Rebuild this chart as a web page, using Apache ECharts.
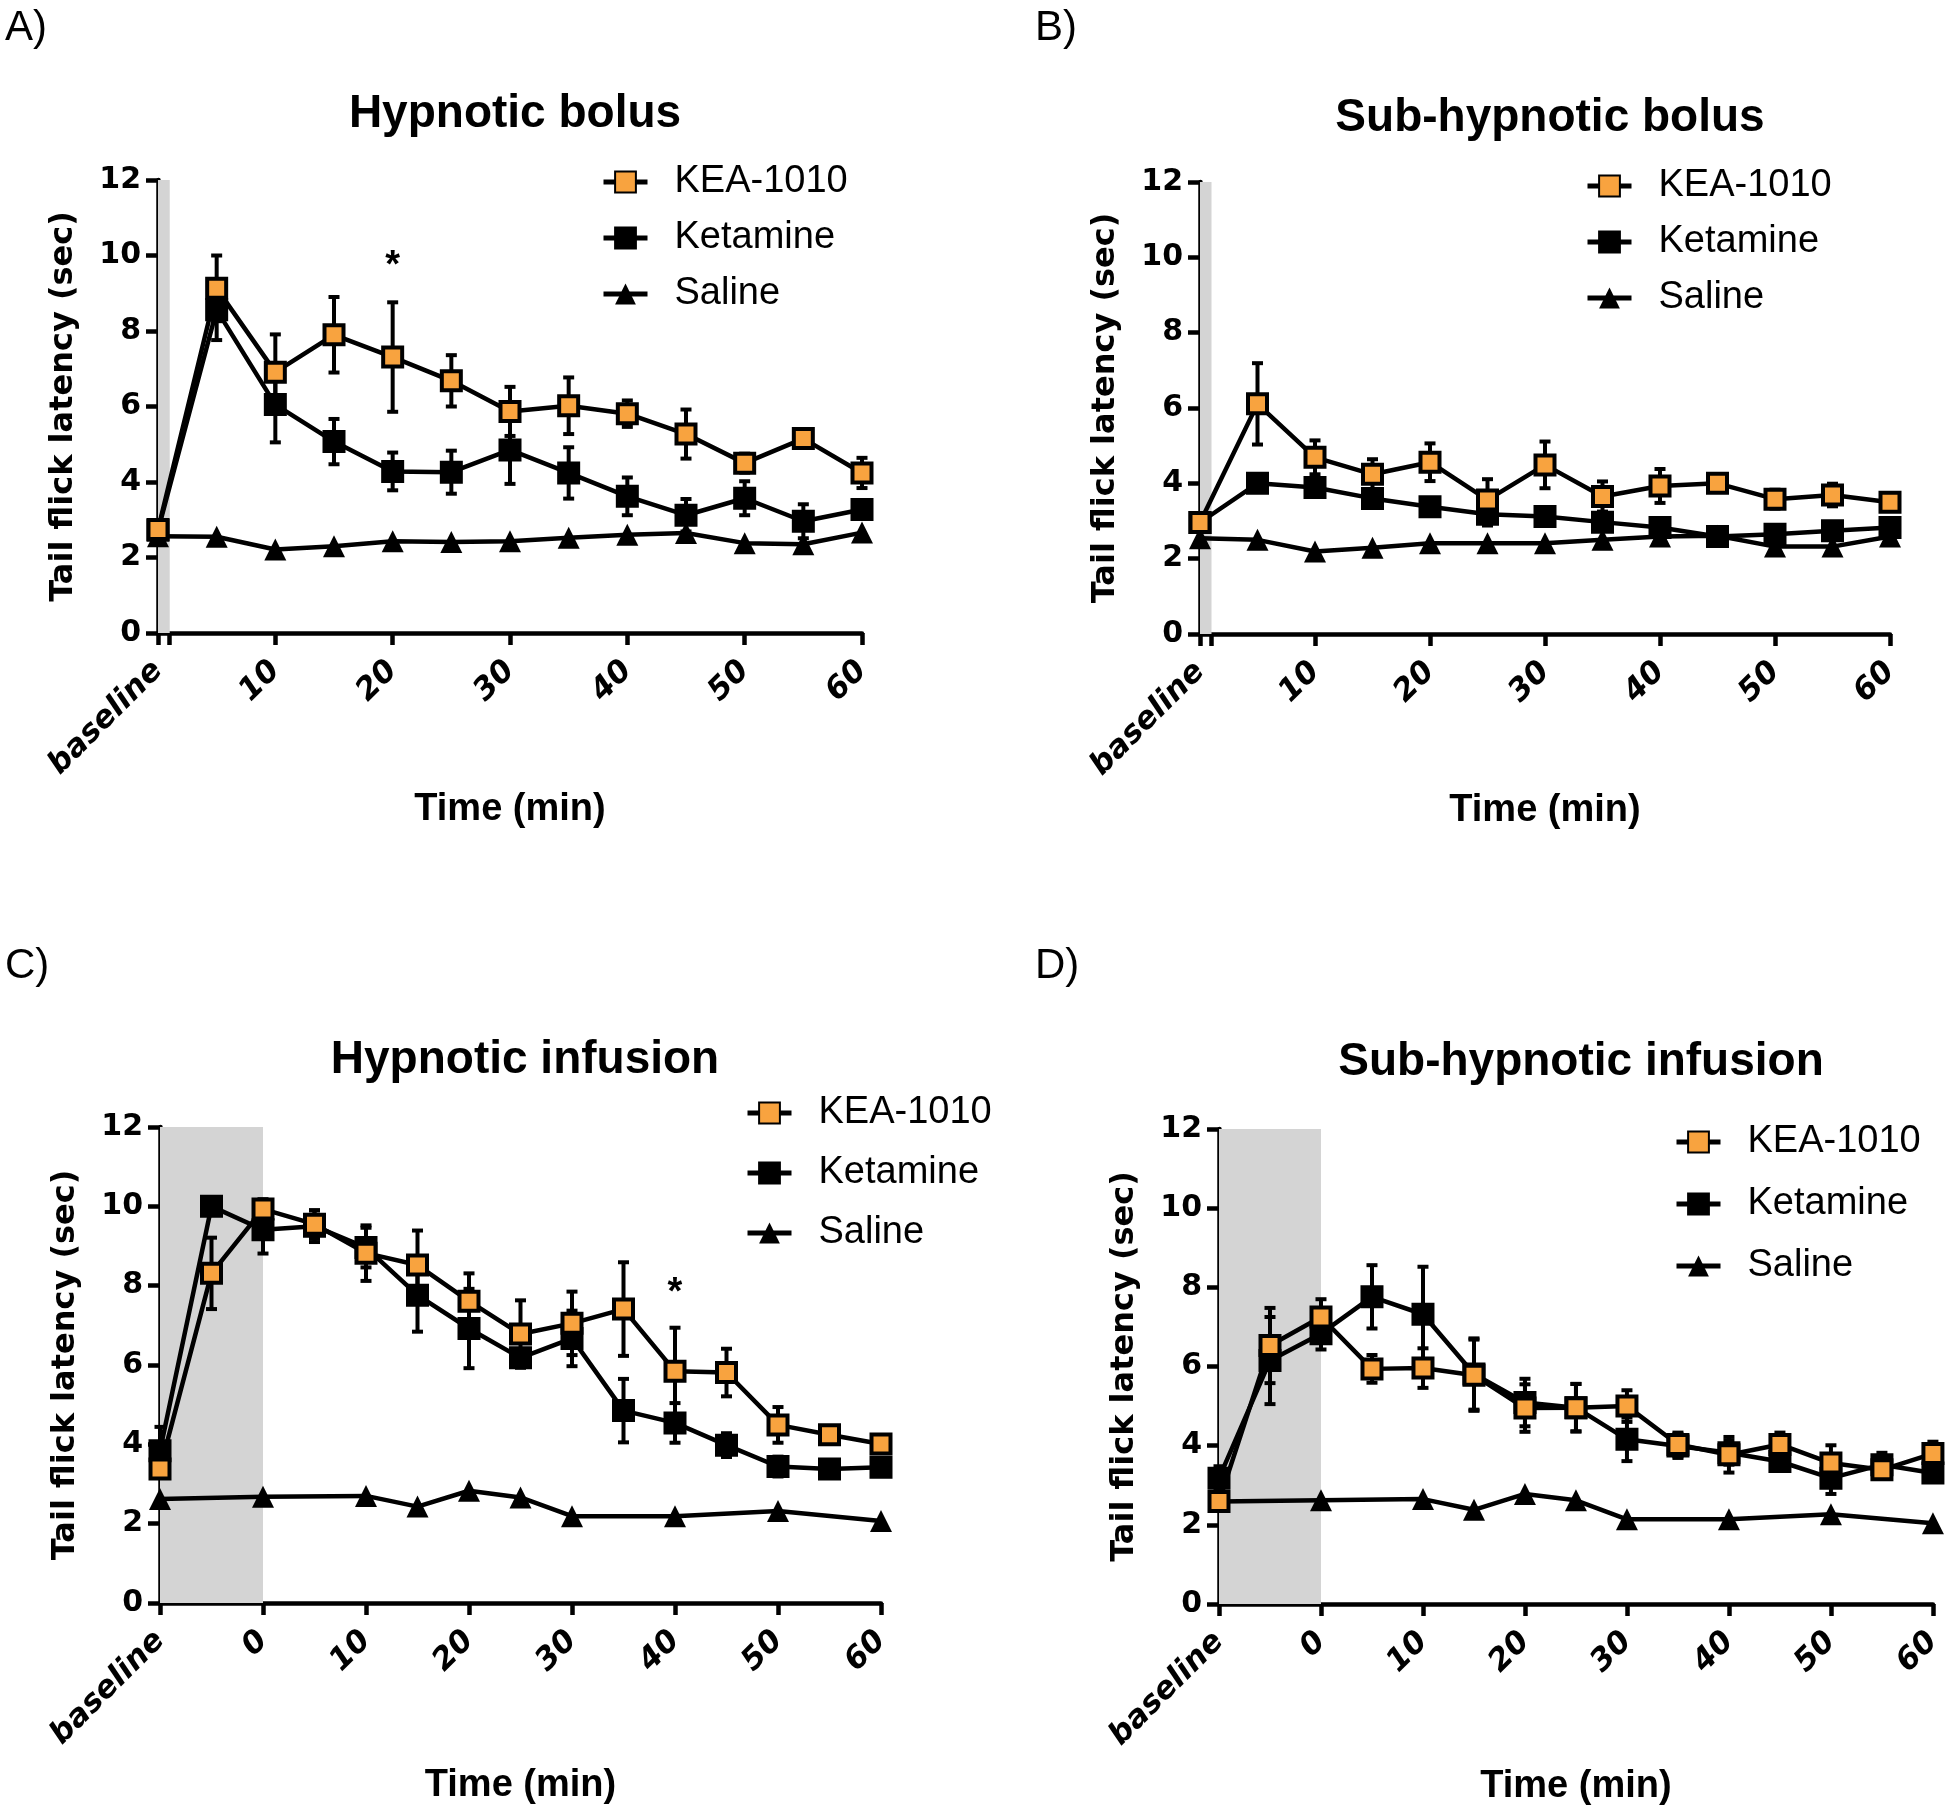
<!DOCTYPE html>
<html>
<head>
<meta charset="utf-8">
<script src="https://cdn.jsdelivr.net/npm/echarts@6/dist/echarts.min.js"></script>
<style>
html,body{margin:0;padding:0;background:#fff;}
#chart{width:1946px;height:1807px;}
</style>
</head>
<body>
<div id="chart"></div>
<script>
// ---------- Data ----------
const seriesNames = ['KEA-1010', 'Ketamine', 'Saline'];
const panelLetters = ['A)', 'B)', 'C)', 'D)'];
const panelTitles = ['Hypnotic bolus', 'Sub-hypnotic bolus', 'Hypnotic infusion', 'Sub-hypnotic infusion'];
const xAxisTitle = 'Time (min)';
const yAxisTitle = 'Tail flick latency (sec)';
const baselineLabel = 'baseline';

// Bolus panels (A, B): baseline plotted at 0
const timesBolus = [0, 5, 10, 15, 20, 25, 30, 35, 40, 45, 50, 55, 60];
const bolusTickValues = [0, 1, 10, 20, 30, 40, 50, 60];
const bolusLabelValues = [0, 10, 20, 30, 40, 50, 60];
const bolusBand = [0, 1];

// Infusion panels (C, D): baseline plotted at -10
const timesInfusion = [-10, -5, 0, 5, 10, 15, 20, 25, 30, 35, 40, 45, 50, 55, 60];
const timesInfusionSaline = [-10, 0, 10, 15, 20, 25, 30, 40, 50, 60];
const infusionBand = [-10, 0];

// Panel A — Hypnotic bolus
const keaA    = [2.74, 9.13, 6.91, 7.90, 7.31, 6.68, 5.87, 6.02, 5.81, 5.27, 4.50, 5.15, 4.24];
const keaAErr = [0.10, 0.87, 1.00, 1.00, 1.45, 0.68, 0.65, 0.75, 0.35, 0.65, 0.25, 0.12, 0.40];
const ketA    = [2.72, 8.56, 6.05, 5.07, 4.28, 4.26, 4.85, 4.24, 3.62, 3.12, 3.57, 2.96, 3.27];
const ketAErr = [0.10, 0.80, 1.00, 0.60, 0.50, 0.57, 0.90, 0.68, 0.50, 0.43, 0.45, 0.45, 0.10];
const salA    = [2.56, 2.55, 2.21, 2.30, 2.43, 2.41, 2.43, 2.52, 2.60, 2.65, 2.38, 2.35, 2.66];
const starsA  = [[20, 9.7]];

// Panel B — Sub-hypnotic bolus
const keaB    = [2.96, 6.11, 4.69, 4.24, 4.56, 3.56, 4.49, 3.65, 3.93, 4.00, 3.58, 3.69, 3.50];
const keaBErr = [0.10, 1.08, 0.45, 0.40, 0.50, 0.55, 0.62, 0.40, 0.45, 0.20, 0.25, 0.30, 0.10];
const ketB    = [2.96, 4.00, 3.89, 3.60, 3.38, 3.18, 3.12, 2.97, 2.83, 2.59, 2.65, 2.74, 2.83];
const ketBErr = [0.10, 0.15, 0.15, 0.15, 0.10, 0.30, 0.10, 0.15, 0.10, 0.10, 0.10, 0.10, 0.10];
const salB    = [2.54, 2.50, 2.19, 2.29, 2.41, 2.41, 2.41, 2.50, 2.59, 2.61, 2.32, 2.32, 2.59];
const starsB  = [];

// Panel C — Hypnotic infusion
const keaC    = [3.38, 8.31, 9.93, 9.55, 8.82, 8.52, 7.61, 6.78, 7.05, 7.41, 5.84, 5.81, 4.49, 4.24, 4.01];
const keaCErr = [0.20, 0.90, 0.25, 0.35, 0.70, 0.87, 0.70, 0.85, 0.80, 1.18, 1.10, 0.60, 0.45, 0.15, 0.15];
const ketC    = [3.84, 10.00, 9.41, 9.50, 8.96, 7.76, 6.92, 6.18, 6.67, 4.85, 4.54, 3.98, 3.44, 3.38, 3.42];
const ketCErr = [0.60, 0.10, 0.60, 0.40, 0.50, 0.92, 1.00, 0.20, 0.70, 0.80, 0.50, 0.30, 0.25, 0.10, 0.15];
const salC    = [2.62, 2.68, 2.70, 2.43, 2.83, 2.66, 2.19, 2.19, 2.32, 2.07];
const starsC  = [[40, 7.8]];

// Panel D — Sub-hypnotic infusion
const keaD    = [2.59, 6.53, 7.25, 5.94, 5.96, 5.78, 4.95, 4.96, 5.00, 4.03, 3.77, 4.03, 3.56, 3.39, 3.80];
const keaDErr = [0.10, 0.95, 0.45, 0.35, 0.50, 0.90, 0.60, 0.60, 0.40, 0.30, 0.45, 0.30, 0.45, 0.20, 0.30];
const ketD    = [3.18, 6.15, 6.83, 7.76, 7.32, 5.81, 5.09, 4.96, 4.16, 3.99, 3.82, 3.60, 3.18, 3.52, 3.31];
const ketDErr = [0.30, 1.10, 0.40, 0.80, 1.20, 0.90, 0.60, 0.60, 0.55, 0.30, 0.30, 0.20, 0.40, 0.30, 0.20];
const salD    = [2.59, 2.62, 2.65, 2.38, 2.78, 2.62, 2.14, 2.14, 2.27, 2.04];
const starsD  = [];

const yTicks = [0, 2, 4, 6, 8, 10, 12];

// ---------- Styling / layout ----------
const ORANGE = '#F8A33F';
const SANS = "'Liberation Sans', Arial, Helvetica, sans-serif";
const WIDE = "'DejaVu Sans', 'Liberation Sans', sans-serif";
const LW = 4.5;

const panels = [
  {grid:{left:158, top:180, width:704, height:453}, kind:'bolus', kea:keaA, keaErr:keaAErr, ket:ketA, ketErr:ketAErr, sal:salA, stars:starsA,
   title:{x:510, top:86}, letter:{left:0, top:2}, legend:{left:596, top:158, gap:18}},
  {grid:{left:1200, top:182, width:690, height:452}, kind:'bolus', kea:keaB, keaErr:keaBErr, ket:ketB, ketErr:ketBErr, sal:salB, stars:starsB,
   title:{x:1545, top:90}, letter:{left:1030, top:2}, legend:{left:1580, top:162, gap:18}},
  {grid:{left:160, top:1127, width:721, height:476}, kind:'infusion', kea:keaC, keaErr:keaCErr, ket:ketC, ketErr:ketCErr, sal:salC, stars:starsC,
   title:{x:520, top:1032}, letter:{left:0, top:940}, legend:{left:740, top:1089, gap:22}},
  {grid:{left:1219, top:1129, width:714, height:476}, kind:'infusion', kea:keaD, keaErr:keaDErr, ket:ketD, ketErr:ketDErr, sal:salD, stars:starsD,
   title:{x:1576, top:1034}, letter:{left:1030, top:940}, legend:{left:1669, top:1118, gap:24}}
];

function zip(xs, ys) { return xs.map((x, i) => [x, ys[i]]); }
function zip3(xs, ys, es) { return xs.map((x, i) => [x, ys[i], es[i]]); }

function renderErr(params, api) {
  const x = api.value(0), y = api.value(1), e = api.value(2);
  const top = api.coord([x, y + e]);
  const bot = api.coord([x, y - e]);
  const cap = 5.5;
  const st = {stroke:'#000', lineWidth:4};
  return {type:'group', children:[
    {type:'line', shape:{x1:top[0], y1:top[1], x2:bot[0], y2:bot[1]}, style:st},
    {type:'line', shape:{x1:top[0]-cap, y1:top[1], x2:top[0]+cap, y2:top[1]}, style:st},
    {type:'line', shape:{x1:bot[0]-cap, y1:bot[1], x2:bot[0]+cap, y2:bot[1]}, style:st}
  ]};
}

const grid = [], xAxis = [], yAxis = [], series = [], legend = [], title = [];

panels.forEach((p, i) => {
  grid.push(Object.assign({containLabel:false}, p.grid));
  const bolus = p.kind === 'bolus';
  const times = bolus ? timesBolus : timesInfusion;
  const salTimes = bolus ? timesBolus : timesInfusionSaline;
  const band = bolus ? bolusBand : infusionBand;
  const xmin = bolus ? 0 : -10;

  const axisCommon = {
    gridIndex:i,
    axisLine:{show:true, onZero:false, lineStyle:{color:'#000', width:4.5}},
    axisTick:{show:true, length:12, lineStyle:{color:'#000', width:4.5}},
    splitLine:{show:false}
  };

  const xa = Object.assign({}, axisCommon, {
    type:'value', min:xmin, max:60, interval:10,
    name:xAxisTitle, nameLocation:'middle', nameGap: bolus ? 158 : 164,
    nameTextStyle:{fontFamily:SANS, fontWeight:'bold', fontSize:38, color:'#000'},
    axisLabel:{
      rotate:45, margin:33, color:'#000', fontFamily:WIDE, fontWeight:'bold', fontStyle:'italic', fontSize:31,
      formatter:(v) => (v === xmin ? baselineLabel : String(v))
    }
  });
  if (bolus) {
    xa.axisTick = Object.assign({}, xa.axisTick, {customValues:bolusTickValues});
    xa.axisLabel = Object.assign({}, xa.axisLabel, {customValues:bolusLabelValues});
  }
  xAxis.push(xa);

  yAxis.push(Object.assign({}, axisCommon, {
    type:'value', min:yTicks[0], max:yTicks[yTicks.length-1], interval:2,
    name:yAxisTitle, nameLocation:'middle', nameRotate:90, nameGap:78,
    nameTextStyle:{fontFamily:WIDE, fontWeight:'bold', fontSize:32, color:'#000'},
    axisLabel:{margin:17, color:'#000', fontFamily:WIDE, fontWeight:'bold', fontSize:30}
  }));

  // gray band
  series.push({
    type:'line', xAxisIndex:i, yAxisIndex:i, data:[], z:0, silent:true,
    markArea:{silent:true, itemStyle:{color:'#d4d4d4'}, data:[[{xAxis:band[0]}, {xAxis:band[1]}]]}
  });

  // error bars
  series.push({type:'custom', xAxisIndex:i, yAxisIndex:i, renderItem:renderErr, z:2, silent:true,
    encode:{x:0, y:1}, data:zip3(times, p.ket, p.ketErr)});
  series.push({type:'custom', xAxisIndex:i, yAxisIndex:i, renderItem:renderErr, z:2, silent:true,
    encode:{x:0, y:1}, data:zip3(times, p.kea, p.keaErr)});

  // lines
  series.push({name:'Saline', type:'line', xAxisIndex:i, yAxisIndex:i, z:3,
    data:zip(salTimes, p.sal), symbol:'triangle', symbolSize:22, showAllSymbol:true,
    lineStyle:{color:'#000', width:LW}, itemStyle:{color:'#000', borderColor:'#000', borderWidth:0}});
  series.push({name:'Ketamine', type:'line', xAxisIndex:i, yAxisIndex:i, z:4,
    data:zip(times, p.ket), symbol:'rect', symbolSize:21, showAllSymbol:true,
    lineStyle:{color:'#000', width:LW}, itemStyle:{color:'#000', borderColor:'#000', borderWidth:2}});
  series.push({name:'KEA-1010', type:'line', xAxisIndex:i, yAxisIndex:i, z:5,
    data:zip(times, p.kea), symbol:'rect', symbolSize:19, showAllSymbol:true,
    lineStyle:{color:'#000', width:LW}, itemStyle:{color:ORANGE, borderColor:'#000', borderWidth:4}});

  // significance stars
  if (p.stars.length) {
    series.push({type:'scatter', xAxisIndex:i, yAxisIndex:i, z:6, silent:true,
      data:p.stars, symbolSize:1, itemStyle:{opacity:0},
      label:{show:true, position:'inside', formatter:'*', color:'#000', fontFamily:SANS, fontWeight:'bold', fontSize:38, opacity:1}});
  }

  legend.push({
    data:seriesNames, orient:'vertical', left:p.legend.left, top:p.legend.top,
    itemGap:p.legend.gap, itemWidth:44, itemHeight:26, selectedMode:false,
    lineStyle:{width:5, color:'#000'},
    textStyle:{fontFamily:SANS, fontSize:38, color:'#000', padding:[0,0,0,22]}
  });

  title.push({text:panelTitles[i], left:p.title.x, top:p.title.top, textAlign:'center',
    textStyle:{fontFamily:SANS, fontWeight:'bold', fontSize:46, color:'#000'}});
  title.push({text:panelLetters[i], left:p.letter.left, top:p.letter.top,
    textStyle:{fontFamily:SANS, fontWeight:'normal', fontSize:42, color:'#000'}});
});

const chart = echarts.init(document.getElementById('chart'), null, {renderer:'canvas'});
chart.setOption({
  backgroundColor:'#fff',
  animation:false,
  title, legend, grid, xAxis, yAxis, series
});
</script>
</body>
</html>
